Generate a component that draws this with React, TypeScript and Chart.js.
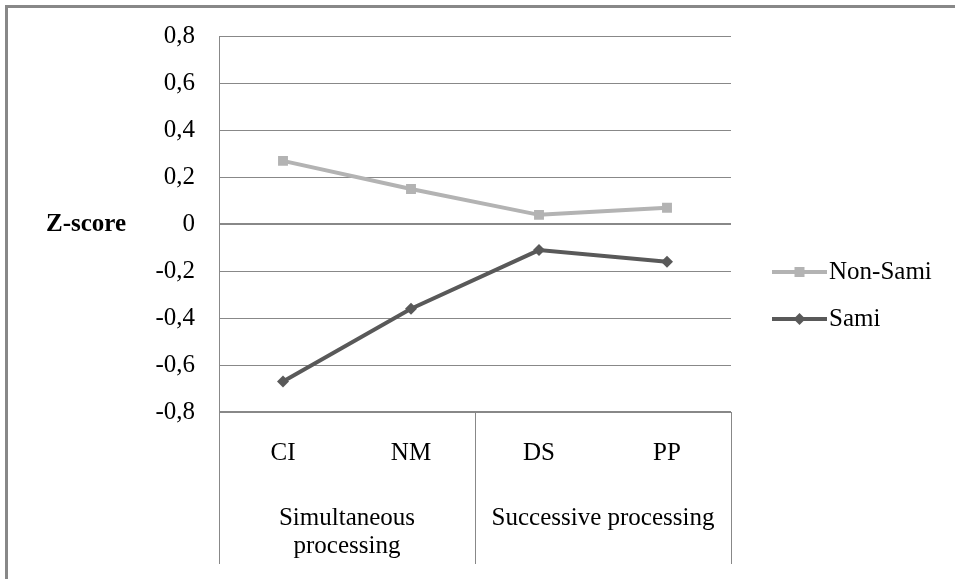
import React, { useEffect, useRef } from 'react';
import { Chart, registerables } from 'chart.js';

Chart.register(...registerables);

const categories = ['CI', 'NM', 'DS', 'PP'];
const groupLabels = [['Simultaneous', 'processing'], ['Successive processing']];
const groupSizes = [2, 2];
const seriesNames = ['Non-Sami', 'Sami'];
const nonSami = [0.27, 0.15, 0.04, 0.07];
const sami = [-0.67, -0.36, -0.11, -0.16];
const yTicks = [-0.8, -0.6, -0.4, -0.2, 0, 0.2, 0.4, 0.6, 0.8];
const yTickLabels = ['-0,8', '-0,6', '-0,4', '-0,2', '0', '0,2', '0,4', '0,6', '0,8'];
const yTitle = 'Z-score';

const FONT = "'Liberation Serif', 'Times New Roman', serif";
const FONT_SIZE = 25;
const COLORS = ['#b3b3b3', '#595959'];

export default function App() {
  const ref = useRef<HTMLCanvasElement>(null);

  useEffect(() => {
    document.body.style.margin = '0';
    const canvas = ref.current;
    if (!canvas) return;

    const decor = {
      id: 'decor',
      beforeDraw(chart: any) {
        const ctx = chart.ctx as CanvasRenderingContext2D;
        ctx.save();
        ctx.fillStyle = '#ffffff';
        ctx.fillRect(0, 0, chart.width, chart.height);
        ctx.fillStyle = '#888888';
        ctx.fillRect(5, 5, chart.width - 5, 3);
        ctx.fillRect(5, 5, 3, chart.height - 5);
        ctx.restore();
      },
      afterDraw(chart: any) {
        const ctx = chart.ctx as CanvasRenderingContext2D;
        const xs = chart.scales.x;
        const ys = chart.scales.y;
        const area = chart.chartArea;
        ctx.save();
        const half = (xs.getPixelForValue(1) - xs.getPixelForValue(0)) / 2;

        // group separators and labels
        ctx.strokeStyle = '#888888';
        ctx.lineWidth = 1;
        let start = 0;
        const bounds: number[] = [xs.getPixelForValue(0) - half];
        groupSizes.forEach((size, g) => {
          const end = start + size - 1;
          const right = xs.getPixelForValue(end) + half;
          bounds.push(right);
          const cx = (xs.getPixelForValue(start) + xs.getPixelForValue(end)) / 2;
          ctx.fillStyle = '#000000';
          ctx.font = `${FONT_SIZE}px ${FONT}`;
          ctx.textAlign = 'center';
          ctx.textBaseline = 'middle';
          groupLabels[g].forEach((line, k) => {
            ctx.fillText(line, cx, area.bottom + 106 + k * 28);
          });
          start += size;
        });
        bounds.forEach((bx) => {
          const px = Math.floor(bx) + 0.5;
          ctx.beginPath();
          ctx.moveTo(px, area.bottom);
          ctx.lineTo(px, area.bottom + 152);
          ctx.stroke();
        });

        // y title
        ctx.font = `bold ${FONT_SIZE}px ${FONT}`;
        ctx.fillStyle = '#000000';
        ctx.textAlign = 'center';
        ctx.textBaseline = 'middle';
        ctx.fillText(yTitle, 86, ys.getPixelForValue(0));

        // legend
        const legendX0 = 772;
        const legendX1 = 827;
        chart.data.datasets.forEach((ds: any, i: number) => {
          const ly = 272 + i * 47;
          ctx.strokeStyle = ds.borderColor;
          ctx.lineWidth = 4;
          ctx.beginPath();
          ctx.moveTo(legendX0, ly);
          ctx.lineTo(legendX1, ly);
          ctx.stroke();
          const mx = (legendX0 + legendX1) / 2;
          ctx.fillStyle = ds.backgroundColor;
          if (ds.pointStyle === 'rect') {
            ctx.fillRect(mx - 5, ly - 5, 10, 10);
          } else {
            ctx.beginPath();
            ctx.moveTo(mx - 6, ly);
            ctx.lineTo(mx, ly - 6);
            ctx.lineTo(mx + 6, ly);
            ctx.lineTo(mx, ly + 6);
            ctx.closePath();
            ctx.fill();
          }
          ctx.fillStyle = '#000000';
          ctx.font = `${FONT_SIZE}px ${FONT}`;
          ctx.textAlign = 'left';
          ctx.textBaseline = 'middle';
          ctx.fillText(ds.label, legendX1 + 2, ly);
        });
        ctx.restore();
      },
    };

    const chart = new Chart(canvas, {
      type: 'line',
      data: {
        labels: categories,
        datasets: [
          {
            label: seriesNames[0],
            data: nonSami,
            borderColor: COLORS[0],
            backgroundColor: COLORS[0],
            borderWidth: 4,
            pointStyle: 'rect',
            pointRadius: 7,
            pointBorderWidth: 0,
            tension: 0,
          },
          {
            label: seriesNames[1],
            data: sami,
            borderColor: COLORS[1],
            backgroundColor: COLORS[1],
            borderWidth: 4,
            pointStyle: 'rectRot',
            pointRadius: 6,
            pointBorderWidth: 0,
            tension: 0,
          },
        ],
      },
      options: {
        responsive: false,
        animation: false,
        layout: { padding: { left: 0, top: 35, right: 224, bottom: 0 } },
        plugins: { legend: { display: false }, tooltip: { enabled: false } },
        scales: {
          x: {
            type: 'category',
            offset: true,
            grid: { display: false, drawTicks: false },
            border: { display: false },
            ticks: {
              padding: 26,
              color: '#000000',
              font: { family: FONT, size: FONT_SIZE },
              maxRotation: 0,
              autoSkip: false,
            },
            afterFit: (s: any) => {
              s.height = 167;
            },
          },
          y: {
            min: -0.8,
            max: 0.8,
            afterBuildTicks: (s: any) => {
              s.ticks = yTicks.map((v) => ({ value: v }));
            },
            ticks: {
              padding: 24,
              color: '#000000',
              font: { family: FONT, size: FONT_SIZE, lineHeight: 1 },
              callback: (_v: any, i: number) => yTickLabels[i],
            },
            grid: {
              color: '#888888',
              drawTicks: false,
              lineWidth: (c: any) =>
                c.tick && (c.tick.value === 0 || c.tick.value === -0.8) ? 2 : 1,
            },
            border: { display: true, color: '#888888', width: 1 },
            afterFit: (s: any) => {
              s.width = 219;
            },
          },
        },
      },
      plugins: [decor],
    });

    return () => chart.destroy();
  }, []);

  return (
    <div style={{ width: 955, height: 579 }}>
      <canvas ref={ref} width={955} height={579} style={{ display: 'block' }} />
    </div>
  );
}
